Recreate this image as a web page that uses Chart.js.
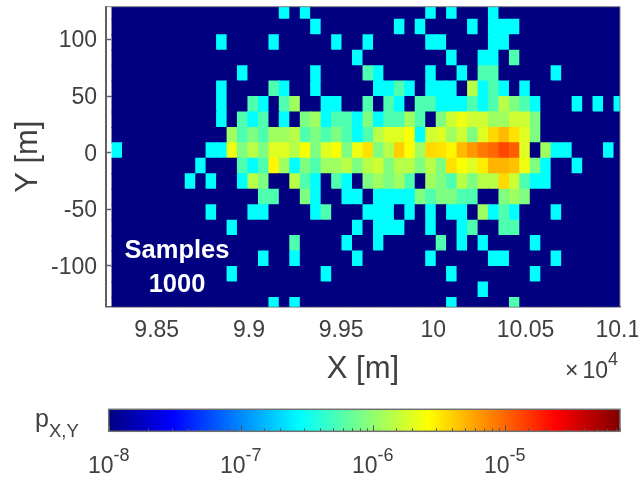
<!DOCTYPE html>
<html>
<head>
<meta charset="utf-8">
<script src="https://cdn.jsdelivr.net/npm/chart.js@4/dist/chart.umd.min.js"></script>
<style>
  html, body { margin: 0; padding: 0; background: #fff; }
  canvas { position: absolute; left: 0; }
  #mapChart { top: 0; }
  #barChart { top: 385px; }
</style>
</head>
<body>
<canvas id="mapChart" width="638" height="385"></canvas>
<canvas id="barChart" width="638" height="93"></canvas>
<script>
// bin centres of the histogram, X [m]
const xBins = [98286, 98343, 98399, 98456, 98513, 98570, 98626, 98683, 98740, 98796,
  98853, 98910, 98966, 99023, 99080, 99137, 99193, 99250, 99307, 99363,
  99420, 99477, 99533, 99590, 99647, 99704, 99760, 99817, 99874, 99930,
  99987, 100044, 100100, 100157, 100214, 100271, 100327, 100384, 100441, 100497,
  100554, 100611, 100667, 100724, 100781, 100838, 100894, 100951, 101008];
// bin centres, Y [m], top row first
const yBins = [124.7, 111.1, 97.4, 83.8, 70.1, 56.5, 42.8, 29.2, 15.5, 1.9,
  -11.8, -25.4, -39.1, -52.7, -66.4, -80, -93.7, -107.3, -121, -134.6];
const yBinSize = 13.65;

const countsByRow = [
  {16:1, 18:1, 30:1, 32:1, 36:1},
  {19:1, 27:1, 29:1, 34:1, 36:1, 37:1, 38:1},
  {10:1, 15:1, 21:1, 24:1, 30:1, 31:1, 36:1, 37:1},
  {23:1, 32:1, 35:1, 36:1, 38:2},
  {12:1, 19:1, 24:2, 25:1, 30:1, 33:1, 35:2, 36:2, 42:1},
  {10:1, 15:2, 16:1, 19:1, 25:1, 26:1, 27:2, 28:1, 30:1, 31:1, 32:1, 34:5, 35:1, 36:2, 37:1, 39:1},
  {10:1, 13:2, 14:1, 16:2, 17:4, 20:1, 21:1, 24:2, 26:2, 27:1, 29:2, 30:2, 31:1, 32:1, 33:1, 34:2, 35:1, 36:2, 37:5, 38:3, 39:2, 40:1, 44:1, 46:1, 48:1},
  {10:1, 12:2, 13:1, 14:2, 16:1, 18:3, 19:4, 20:1, 21:2, 22:2, 23:1, 24:3, 25:1, 26:2, 27:2, 28:4, 29:2, 31:3, 32:6, 33:8, 34:6, 35:6, 36:4, 37:4, 38:6, 39:6, 40:3},
  {11:4, 12:2, 13:3, 14:2, 15:4, 16:4, 17:5, 18:2, 19:3, 20:2, 21:3, 22:2, 23:1, 24:2, 25:5, 26:7, 27:7, 28:9, 29:1, 30:6, 31:7, 32:4, 33:6, 34:3, 35:7, 36:13, 37:17, 38:12, 39:7, 40:3},
  {0:1, 9:1, 10:1, 11:8, 12:3, 13:5, 14:3, 15:7, 16:7, 17:5, 18:9, 19:3, 20:7, 21:9, 22:3, 23:8, 24:12, 25:3, 26:5, 27:14, 28:9, 29:4, 30:13, 31:12, 32:10, 33:17, 34:23, 35:30, 36:35, 37:47, 38:38, 39:7, 41:4, 42:1, 43:1, 47:1},
  {8:1, 12:2, 13:1, 14:2, 15:10, 16:4, 17:1, 18:3, 19:2, 20:4, 21:4, 22:5, 23:3, 24:5, 25:6, 26:3, 27:5, 28:5, 29:3, 30:5, 31:3, 32:12, 33:9, 34:7, 35:11, 36:18, 37:18, 38:16, 39:8, 40:3, 41:1, 44:1},
  {7:1, 9:1, 12:1, 13:5, 14:3, 17:5, 18:2, 19:1, 21:2, 22:1, 24:3, 25:4, 26:3, 27:4, 28:2, 30:4, 31:3, 32:2, 33:5, 34:3, 35:5, 36:5, 37:13, 38:6, 39:2, 40:1, 41:1},
  {14:2, 15:2, 18:3, 19:1, 22:1, 23:1, 25:1, 26:1, 27:1, 28:1, 29:3, 30:2, 31:3, 32:3, 33:2, 34:2, 37:3, 38:4, 39:3},
  {9:1, 13:1, 14:1, 19:1, 20:2, 24:1, 25:1, 26:1, 28:1, 30:1, 32:1, 33:1, 35:4, 36:1, 37:2, 38:1, 42:1},
  {11:1, 23:1, 25:1, 26:1, 27:1, 30:1, 33:1, 34:2, 37:2, 38:2},
  {17:2, 22:1, 25:1, 31:2, 33:1, 35:1, 40:1},
  {14:1, 17:1, 23:1, 30:1, 36:1, 37:1, 42:1},
  {11:1, 20:1, 32:1, 40:1},
  {35:1},
  {15:1, 17:1, 32:1, 38:2},
];

const pPerSample = 2.84e-7;
const pMin = 1e-8;
const pMax = 7.5e-5;

const xTicks = [98500, 99000, 99500, 100000, 100500, 101000];
const yTicks = [-100, -50, 0, 50, 100];
const textColor = '#404040';
const fontName = '"Liberation Sans", Arial, sans-serif';

// MATLAB jet, t from 0 to 1
function jet(t) {
  const part = (v) => Math.round(255 * Math.min(1, Math.max(0, v)));
  const r = part(Math.min(4 * t - 1.5, 4.5 - 4 * t));
  const g = part(Math.min(4 * t - 0.5, 3.5 - 4 * t));
  const b = part(Math.min(4 * t + 0.5, 2.5 - 4 * t));
  return 'rgb(' + r + ',' + g + ',' + b + ')';
}

function colorOf(count) {
  if (count === 0) return jet(0);
  const p = count * pPerSample;
  return jet(Math.log10(p / pMin) / Math.log10(pMax / pMin));
}

const cells = [];
const cellColors = [];
yBins.forEach((y, row) => {
  xBins.forEach((x, col) => {
    cells.push({x: x, y: [y - yBinSize / 2, y + yBinSize / 2]});
    cellColors.push(colorOf(countsByRow[row][col] || 0));
  });
});

// top and right frame lines, plus the texts that sit on the map
const mapOverlay = {
  id: 'mapOverlay',
  afterDraw(chart) {
    const {ctx, chartArea} = chart;
    ctx.save();
    ctx.strokeStyle = '#808080';
    ctx.lineWidth = 1;
    ctx.beginPath();
    ctx.moveTo(chartArea.left, chartArea.top);
    ctx.lineTo(chartArea.right, chartArea.top);
    ctx.lineTo(chartArea.right, chartArea.bottom);
    ctx.stroke();

    ctx.fillStyle = '#fff';
    ctx.textAlign = 'center';
    ctx.textBaseline = 'alphabetic';
    ctx.font = 'bold 25.5px ' + fontName;
    ctx.fillText('Samples', 177, 258);
    ctx.fillText('1000', 177, 291.5);

    ctx.fillStyle = textColor;
    ctx.textAlign = 'left';
    ctx.font = '23px ' + fontName;
    ctx.fillText('×', 565, 378);
    ctx.fillText('10', 582.5, 378);
    ctx.font = '18px ' + fontName;
    ctx.fillText('4', 608, 365);
    ctx.restore();
  },
};

new Chart(document.getElementById('mapChart').getContext('2d'), {
  type: 'bar',
  data: {
    datasets: [{
      data: cells,
      backgroundColor: cellColors,
      borderWidth: 0,
      barThickness: 10.46,
      inflateAmount: 0.5,
    }],
  },
  options: {
    responsive: false,
    animation: false,
    layout: {
      padding: {top: 6.7, right: 18, bottom: 0, left: 0},
    },
    plugins: {
      legend: {display: false},
      tooltip: {enabled: false},
    },
    scales: {
      x: {
        type: 'linear',
        offset: false,
        min: 98225,
        max: 101012,
        afterFit: (scale) => {
          scale.height = 78.3;
          scale.paddingLeft = 0;
          scale.paddingRight = 0;
        },
        afterBuildTicks: (scale) => { scale.ticks = xTicks.map((v) => ({value: v})); },
        grid: {offset: false, drawOnChartArea: false, drawTicks: false},
        border: {color: '#606060', width: 1.5},
        ticks: {
          autoSkip: false,
          maxRotation: 0,
          padding: 10,
          color: textColor,
          font: {family: fontName, size: 23},
          callback: (v) => String(Math.round(v / 100) / 100),
        },
        title: {
          display: true,
          text: 'X [m]',
          color: textColor,
          font: {family: fontName, size: 31},
          padding: {top: 0, bottom: -3},
        },
      },
      y: {
        min: -136,
        max: 129,
        afterFit: (scale) => {
          scale.width = 106;
          scale.paddingTop = 0;
          scale.paddingBottom = 0;
        },
        afterBuildTicks: (scale) => { scale.ticks = yTicks.map((v) => ({value: v})); },
        grid: {drawOnChartArea: false, tickLength: -5, color: '#606060', tickWidth: 1.5},
        border: {color: '#606060', width: 2},
        ticks: {
          padding: 14,
          labelOffset: 1.5,
          color: textColor,
          font: {family: fontName, size: 23},
        },
        title: {
          display: true,
          text: 'Y [m]',
          color: textColor,
          font: {family: fontName, size: 31},
          padding: {top: 10, bottom: 0},
        },
      },
    },
  },
  plugins: [mapOverlay],
});

// colour bar: gradient through the log axis, inner ticks, 10^n labels
const colorBar = {
  id: 'colorBar',
  afterDatasetsDraw(chart) {
    const {ctx, chartArea, scales} = chart;
    const scale = scales.x;
    const grad = ctx.createLinearGradient(chartArea.left, 0, chartArea.right, 0);
    for (let i = 0; i <= 32; i++) grad.addColorStop(i / 32, jet(i / 32));
    ctx.save();
    ctx.fillStyle = grad;
    ctx.fillRect(chartArea.left, chartArea.top, chartArea.right - chartArea.left, chartArea.bottom - chartArea.top);

    ctx.strokeStyle = '#505050';
    ctx.lineWidth = 1;
    ctx.textBaseline = 'alphabetic';
    scale.ticks.forEach((tick) => {
      const px = Math.round(scale.getPixelForValue(tick.value)) + 0.5;
      const exp = Math.log10(tick.value);
      const isDecade = Math.abs(exp - Math.round(exp)) < 1e-6;
      ctx.beginPath();
      ctx.moveTo(px, chartArea.bottom);
      ctx.lineTo(px, chartArea.bottom - (isDecade ? 6 : 3));
      ctx.stroke();
      if (isDecade) {
        ctx.fillStyle = textColor;
        ctx.textAlign = 'right';
        ctx.font = '23px ' + fontName;
        ctx.fillText('10', px + 4, 87.7);
        ctx.textAlign = 'left';
        ctx.font = '18px ' + fontName;
        ctx.fillText(String(Math.round(exp)), px + 4, 75.7);
      }
    });
    ctx.lineWidth = 1.5;
    ctx.strokeStyle = '#707070';
    ctx.strokeRect(chartArea.left, chartArea.top, chartArea.right - chartArea.left, chartArea.bottom - chartArea.top);

    ctx.fillStyle = textColor;
    ctx.textAlign = 'left';
    ctx.font = '25px ' + fontName;
    ctx.fillText('p', 35, 42);
    ctx.font = '18.5px ' + fontName;
    ctx.fillText('X,Y', 49, 51.7);
    ctx.restore();
  },
};

new Chart(document.getElementById('barChart').getContext('2d'), {
  type: 'bar',
  data: {datasets: []},
  options: {
    responsive: false,
    animation: false,
    layout: {
      padding: {top: 24.3, right: 18, bottom: 0, left: 108.7},
    },
    plugins: {
      legend: {display: false},
      tooltip: {enabled: false},
    },
    scales: {
      x: {
        type: 'logarithmic',
        offset: false,
        min: pMin,
        max: pMax,
        afterFit: (scale) => {
          scale.height = 46.7;
          scale.paddingLeft = 0;
          scale.paddingRight = 0;
        },
        grid: {display: false, offset: false},
        border: {display: false},
        ticks: {display: false},
      },
      y: {display: false},
    },
  },
  plugins: [colorBar],
});
</script>
</body>
</html>
